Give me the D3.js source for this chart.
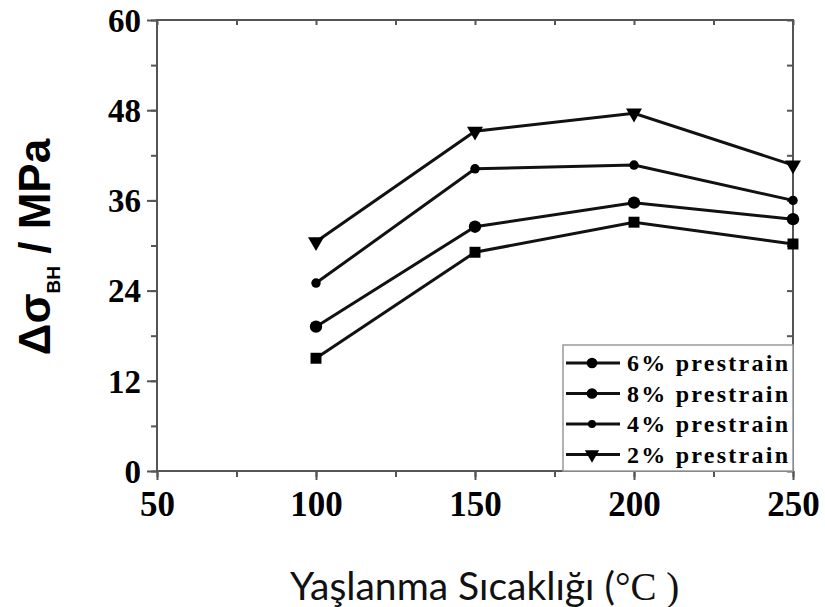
<!DOCTYPE html>
<html>
<head>
<meta charset="utf-8">
<script src="https://cdn.jsdelivr.net/npm/d3@7"></script>
<style>
	body { margin: 0; background: #fff; }
	svg { display: block; }
</style>
</head>
<body>
<svg id="svg_chart" width="825" height="607"></svg>
<script>
var temps = [100, 150, 200, 250];
var strain6 = [15.0, 29.1, 33.1, 30.2];
var strain8 = [19.2, 32.5, 35.7, 33.5];
var strain4 = [25.0, 40.2, 40.7, 36.0];
var strain2 = [30.5, 45.2, 47.6, 40.7];
var xTicks = [50, 100, 150, 200, 250];
var yTicks = [0, 12, 24, 36, 48, 60];
var legendNames = ["6% prestrain", "8% prestrain", "4% prestrain", "2% prestrain"];

var series = [
	{ name: legendNames[0], values: strain6, symbol: d3.symbolSquare, size: 120 },
	{ name: legendNames[1], values: strain8, symbol: d3.symbolCircle, size: 120 },
	{ name: legendNames[2], values: strain4, symbol: d3.symbolCircle, size: 70 },
	{ name: legendNames[3], values: strain2, symbol: d3.symbolTriangle, size: 110, flip: true }
];

var svg = d3.select("#svg_chart"),
	margin = { top: 20, left: 157, right: 32, bottom: 136 },
	width = +svg.attr("width"),
	height = +svg.attr("height");

var x = d3.scaleLinear().domain([50, 250]).range([margin.left, width - margin.right]);
var y = d3.scaleLinear().domain([0, 60]).range([height - margin.bottom, margin.top]);
var axisColor = "#555";

// frame
svg.append("rect")
	.attr("x", x(50)).attr("y", y(60))
	.attr("width", x(250) - x(50)).attr("height", y(0) - y(60))
	.attr("fill", "none").attr("stroke", axisColor).attr("stroke-width", 2);

var minorX = d3.range(50, 251, 25), minorY = d3.range(0, 61, 6);

// bottom + left axes with outward ticks
svg.append("g")
	.attr("transform", "translate(0," + y(0) + ")")
	.call(d3.axisBottom(x).tickValues(minorX).tickSize(6).tickFormat(""));
svg.append("g")
	.attr("transform", "translate(" + x(50) + ",0)")
	.call(d3.axisLeft(y).tickValues(minorY).tickSize(6).tickFormat(""));
svg.append("g")
	.attr("transform", "translate(0," + y(0) + ")")
	.call(d3.axisBottom(x).tickValues(xTicks).tickSize(9).tickPadding(11))
	.attr("class", "xlab");
svg.append("g")
	.attr("transform", "translate(" + x(50) + ",0)")
	.call(d3.axisLeft(y).tickValues(yTicks).tickSize(10).tickPadding(6))
	.attr("class", "ylab");
// top + right mirror ticks, inward
svg.append("g")
	.attr("transform", "translate(0," + y(60) + ")")
	.call(d3.axisTop(x).tickValues(minorX).tickSize(-5).tickFormat(""));
svg.append("g")
	.attr("transform", "translate(" + x(250) + ",0)")
	.call(d3.axisRight(y).tickValues(minorY).tickSize(-6).tickFormat(""));

svg.selectAll(".domain").remove();
svg.selectAll(".tick line").attr("stroke", axisColor).attr("stroke-width", 2);
svg.selectAll(".xlab text")
	.attr("font-family", "'Liberation Serif', 'Times New Roman', serif")
	.attr("font-weight", "bold").attr("font-size", 35).attr("fill", "#000");
svg.selectAll(".ylab text")
	.attr("font-family", "'Liberation Serif', 'Times New Roman', serif")
	.attr("font-weight", "bold").attr("font-size", 33).attr("fill", "#000")
	.attr("dy", "0.34em");

// legend box
var lg = svg.append("g");
lg.append("rect")
	.attr("x", 563).attr("y", 345)
	.attr("width", x(250) - 563).attr("height", y(0) - 345)
	.attr("fill", "#fff").attr("stroke", "#999").attr("stroke-width", 1.5);

// lines
var line = d3.line()
	.x(function(d, i) { return x(temps[i]); })
	.y(function(d) { return y(d); });

var g_line = svg.append("g");
series.forEach(function(s) {
	g_line.append("path")
		.attr("d", line(s.values))
		.attr("fill", "none").attr("stroke", "#111").attr("stroke-width", 3);
	g_line.selectAll(null).data(s.values).enter().append("path")
		.attr("d", d3.symbol().type(s.symbol).size(s.size))
		.attr("transform", function(d, i) {
			return "translate(" + x(temps[i]) + "," + y(d) + ")" + (s.flip ? " rotate(180)" : "");
		})
		.attr("fill", "#000");
});

// legend entries
series.forEach(function(s, i) {
	var cy = 363 + i * 30.5;
	lg.append("line")
		.attr("x1", 566).attr("x2", 620).attr("y1", cy).attr("y2", cy)
		.attr("stroke", "#111").attr("stroke-width", 3);
	lg.append("path")
		.attr("d", d3.symbol().type(i === 0 ? d3.symbolCircle : s.symbol).size(i === 2 ? 50 : 90))
		.attr("transform", "translate(592," + cy + ")" + (s.flip ? " rotate(180)" : ""))
		.attr("fill", "#000");
	lg.append("text")
		.attr("x", 627).attr("y", cy + 8)
		.attr("font-family", "'Liberation Serif', 'Times New Roman', serif")
		.attr("font-weight", "bold").attr("font-size", 24)
		.attr("textLength", 161).attr("lengthAdjust", "spacing")
		.text(s.name);
});

// y title
var yt = svg.append("text")
	.attr("transform", "translate(50,247) rotate(-90)")
	.attr("text-anchor", "middle")
	.attr("font-family", "'Liberation Sans', Arial, sans-serif")
	.attr("font-weight", "bold").attr("font-size", 44);
yt.append("tspan").text("Δσ");
yt.append("tspan").attr("font-size", 19).attr("dy", 10).text("BH");
yt.append("tspan").attr("dy", -10).text(" / MPa");

// x title
var xt = svg.append("text")
	.attr("x", 290).attr("y", 600)
	.attr("font-family", "Lato, 'Open Sans', sans-serif")
	.attr("font-size", 39).attr("fill", "#111");
xt.append("tspan").text("Yaşlanma Sıcaklığı (");
xt.append("tspan").attr("font-family", "'Liberation Serif', serif").text("°C )");
</script>
</body>
</html>
